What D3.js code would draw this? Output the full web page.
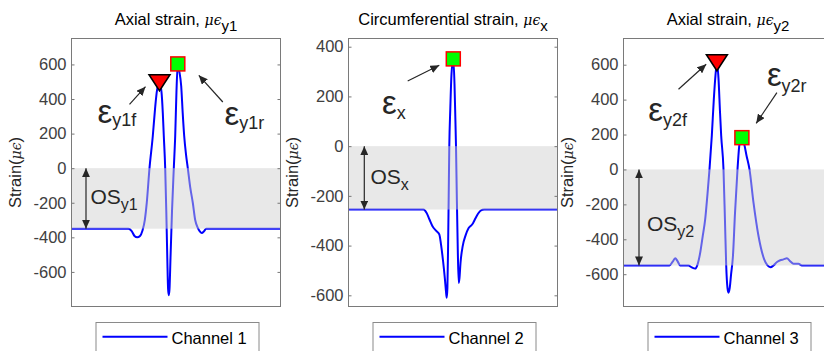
<!DOCTYPE html>
<html>
<head>
<meta charset="utf-8">
<script src="https://cdn.jsdelivr.net/npm/d3@7"></script>
<style>
  body { margin: 0; background: #fff; }
  svg text { font-family: "Liberation Sans", Arial, sans-serif; }
</style>
</head>
<body>
<svg id="fig" width="824" height="351"></svg>
<script>
// ---- data (x = sample position, arbitrary units) ----
var ch1Time   = [0,57,60,63,65.7,68.5,71,73.3,75.3,78,81.3,83.5,85.5,88,90,91.3,92.3,93.7,94.8,95.8,96.6,97.3,98,99,100.5,102.3,103.7,105,106.3,107.8,109.7,111.2,112.7,114.5,116.3,118.7,121.3,123.7,126.3,128.3,130.3,132.5,134.7,209];
var ch1Strain = [-350,-350,-362,-392,-400,-392,-360,-300,-198,0,186,340,450,494,440,320,186,0,-250,-520,-700,-735,-700,-520,-250,0,186,450,603,560,475,320,186,80,0,-110,-200,-300,-345,-365,-375,-365,-350,-350];

var ch2Time   = [0,75,78,81,84,88,90.8,92.5,94.5,96.3,97.5,98.2,98.9,99.6,100.2,100.8,101.8,103,104.8,106,106.8,107.5,108.3,109.2,110.2,111,112,114.2,117,120,122.5,124.5,127,129.5,132,135.8,209];
var ch2Strain = [-255,-255,-268,-295,-322,-342,-355,-395,-460,-530,-585,-610,-570,-400,-200,0,150,290,351,250,120,0,-200,-400,-550,-530,-470,-402,-360,-330,-320,-310,-290,-272,-260,-255,-255];

var ch3Time   = [0,46,49,51.7,54,56.7,65,68,71.7,74,76.7,79,81.7,84,86,88.3,90.3,92,93.4,95,96.5,97.7,100,101.5,102.7,104,105,106.2,107.6,109.4,111.5,114,116,118.4,120.7,123,126,130,135,140.7,144,147,150,153.5,156.7,160,163.4,166.5,170,175,178.4,209];
var ch3Strain = [-550,-550,-530,-509,-525,-550,-550,-560,-568,-545,-477,-390,-285,-140,0,192,400,540,611,520,330,192,0,-300,-550,-680,-706,-680,-600,-500,-250,0,146,182,146,80,0,-190,-381,-515,-550,-560,-550,-530,-520,-515,-509,-525,-540,-540,-550,-550];

// offset strain (OS) of each channel
var ch1Offset = -350, ch2Offset = -255, ch3Offset = -550;

// picked peaks: front (triangle) / rear (square)
var ch1Peaks = [{t: 88, v: 494, kind: "front"}, {t: 106.3, v: 603, kind: "rear"}];
var ch2Peaks = [{t: 104.8, v: 351, kind: "rear"}];
var ch3Peaks = [{t: 93.4, v: 611, kind: "front"}, {t: 118.4, v: 182, kind: "rear"}];

var ticksAxial = [-600,-400,-200,0,200,400,600];
var ticksCirc  = [-600,-400,-200,0,200,400];
var legendLabels = ["Channel 1", "Channel 2", "Channel 3"];

// ---- layout ----
var svg = d3.select("#fig");
var W = 209, H = 268, TOP = 38.5;
var ink = "#262626";

var defs = svg.append("defs");
defs.append("marker")
    .attr("id", "head")
    .attr("viewBox", "0 0 10 10")
    .attr("refX", 10).attr("refY", 5)
    .attr("markerWidth", 9).attr("markerHeight", 8)
    .attr("markerUnits", "userSpaceOnUse")
    .attr("preserveAspectRatio", "none")
    .attr("orient", "auto-start-reverse")
  .append("path")
    .attr("d", "M0,0L10,5L0,10Z")
    .attr("fill", ink);

function epsLabel(g, x, y, sub, subDx, subDy) {
  var t = g.append("text").attr("x", x).attr("y", y).attr("fill", ink);
  t.append("tspan").style("font-size", "33px").text("ε");
  t.append("tspan").style("font-size", "18px").attr("dx", subDx).attr("dy", subDy).text(sub);
}

function osLabel(g, x, y, sub) {
  var t = g.append("text").attr("x", x).attr("y", y).attr("fill", ink);
  t.append("tspan").style("font-size", "21px").text("OS");
  t.append("tspan").style("font-size", "16px").attr("dy", 6).text(sub);
}

function arrow(g, a) {
  g.append("line")
      .attr("x1", a[0]).attr("y1", a[1]).attr("x2", a[2]).attr("y2", a[3])
      .attr("stroke", ink).attr("stroke-width", 1.2)
      .attr("marker-end", "url(#head)");
}

function drawPanel(p) {
  var g = svg.append("g").attr("transform", "translate(" + p.left + "," + TOP + ")");
  var x = d3.scaleLinear().domain([0, 209]).range([0, W]);
  var y = d3.scaleLinear().domain(p.yDomain).range([H, 0]);

  // title
  var title = g.append("text")
      .attr("x", W / 2).attr("y", 25 - TOP)
      .attr("text-anchor", "middle")
      .attr("fill", "#000")
      .style("font-size", "16.5px");
  title.append("tspan").text(p.title);
  title.append("tspan")
      .style("font-family", "'DejaVu Serif', serif").style("font-style", "italic")
      .style("font-size", "14px").text("μϵ");
  title.append("tspan").style("font-size", "15px").attr("dy", 6).text(p.titleSub);

  // y label
  var yl = g.append("text")
      .attr("transform", "translate(" + (-51) + "," + (H / 2) + ") rotate(-90)")
      .attr("text-anchor", "middle")
      .attr("fill", ink)
      .style("font-size", "16.5px");
  yl.append("tspan").text("Strain(");
  yl.append("tspan")
      .style("font-family", "'DejaVu Serif', serif").style("font-style", "italic")
      .style("font-size", "14px").text("μϵ");
  yl.append("tspan").text(")");

  // signal
  var line = d3.line()
      .x(function(d, i) { return x(p.time[i]); })
      .y(function(d) { return y(d); })
      .curve(d3.curveMonotoneX);
  g.append("path")
      .datum(p.strain)
      .attr("d", line)
      .attr("fill", "none")
      .attr("stroke", "#0000ff")
      .attr("stroke-width", 2)
      .attr("stroke-linejoin", "round");

  // offset band, translucent over the line
  g.append("rect")
      .attr("x", 0).attr("width", W)
      .attr("y", y(0)).attr("height", y(p.offset) - y(0))
      .attr("fill", "#cfcfcf")
      .attr("fill-opacity", 0.48);

  // axes
  var axL = g.append("g").call(d3.axisLeft(y)
      .tickValues(p.ticks).tickSize(-3).tickSizeOuter(0).tickPadding(5)
      .tickFormat(function(d) { return String(d); }));
  var axR = g.append("g").attr("transform", "translate(" + W + ",0)")
      .call(d3.axisRight(y).tickValues(p.ticks).tickSize(-3).tickSizeOuter(0).tickFormat(""));
  [axL, axR].forEach(function(a) {
    a.select(".domain").remove();
    a.selectAll("line").attr("stroke", "#777");
    a.selectAll("text").attr("fill", "#404040").style("font-size", "16.5px")
        .style("font-family", "'Liberation Sans', Arial, sans-serif");
  });
  g.append("rect")
      .attr("width", W).attr("height", H)
      .attr("fill", "none").attr("stroke", "#7a7a7a").attr("stroke-width", 1);

  // OS double arrow + label
  g.append("line")
      .attr("x1", p.osX).attr("x2", p.osX)
      .attr("y1", y(0)).attr("y2", y(p.offset))
      .attr("stroke", ink).attr("stroke-width", 1.2)
      .attr("marker-start", "url(#head)").attr("marker-end", "url(#head)");
  osLabel(g, p.osText[0], p.osText[1], p.osSub);

  // peak annotations
  p.arrows.forEach(function(a) { arrow(g, a); });
  p.eps.forEach(function(e) { epsLabel(g, e[0], e[1], e[2], e[3], e[4]); });

  // peak markers
  p.peaks.forEach(function(d) {
    var cx = x(d.t), cy = y(d.v);
    if (d.kind === "front") {
      g.append("path")
          .attr("d", "M" + (cx - 10.5) + "," + (cy - 8) + "L" + (cx + 10.5) + "," + (cy - 8) + "L" + cx + "," + (cy + 8) + "Z")
          .attr("fill", "#ff0000").attr("stroke", "#000").attr("stroke-width", 1.5)
          .attr("stroke-linejoin", "miter");
    } else {
      g.append("rect")
          .attr("x", cx - 7).attr("y", cy - 7).attr("width", 14).attr("height", 14)
          .attr("fill", "#00ff00").attr("stroke", "#ff0000").attr("stroke-width", 1.5);
    }
  });

  // legend
  var lg = g.append("g").attr("transform", "translate(24," + (322 - TOP) + ")");
  lg.append("rect").attr("x", 0.5).attr("y", 0.5).attr("width", 163).attr("height", 30)
      .attr("fill", "#fff").attr("stroke", "#8a8a8a");
  lg.append("line").attr("x1", 7).attr("x2", 72).attr("y1", 14.7).attr("y2", 14.7)
      .attr("stroke", "#0000ff").attr("stroke-width", 2);
  lg.append("text").attr("x", 76).attr("y", 21.5).attr("fill", "#000")
      .style("font-size", "16.5px").text(p.legend);
}

drawPanel({
  left: 71.5, yDomain: [-800, 750], ticks: ticksAxial,
  time: ch1Time, strain: ch1Strain, offset: ch1Offset, peaks: ch1Peaks,
  title: "Axial strain, ", titleSub: "y1", legend: legendLabels[0],
  osX: 14.5, osText: [19, 165.5], osSub: "y1",
  arrows: [[58, 65.8, 74, 48.2], [151.3, 63.5, 127.3, 36.8]],
  eps: [[26, 84.2, "y1f", 0, 3.5], [153, 86.8, "y1r", 0, 3.5]]
});

drawPanel({
  left: 348.5, yDomain: [-645, 433], ticks: ticksCirc,
  time: ch2Time, strain: ch2Strain, offset: ch2Offset, peaks: ch2Peaks,
  title: "Circumferential strain, ", titleSub: "x", legend: legendLabels[1],
  osX: 15.8, osText: [22, 145.8], osSub: "x",
  arrows: [[59.2, 42.5, 90.8, 26.8]],
  eps: [[33.5, 75.8, "x", 0, 5]]
});

drawPanel({
  left: 623.5, yDomain: [-785, 750], ticks: ticksAxial,
  time: ch3Time, strain: ch3Strain, offset: ch3Offset, peaks: ch3Peaks,
  title: "Axial strain, ", titleSub: "y2", legend: legendLabels[2],
  osX: 15.5, osText: [23.4, 192.5], osSub: "y2",
  arrows: [[55, 50.8, 82.7, 25.8], [153.4, 54.2, 132.7, 84.8]],
  eps: [[24.7, 82.5, "y2f", 0, 5], [143.4, 47.5, "y2r", 0, 6]]
});
</script>
</body>
</html>
